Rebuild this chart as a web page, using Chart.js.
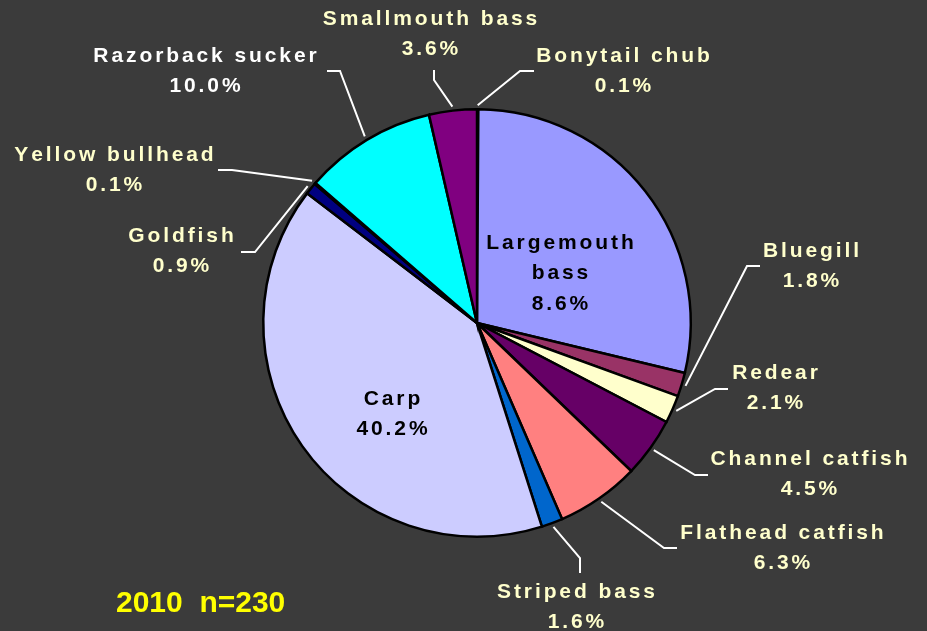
<!DOCTYPE html>
<html>
<head>
<meta charset="utf-8">
<script src="https://cdn.jsdelivr.net/npm/chart.js@4/dist/chart.umd.min.js"></script>
<style>
  html, body { margin: 0; padding: 0; background: #3b3b3b; }
  #wrap { width: 927px; height: 631px; position: relative; }
</style>
</head>
<body>
<div id="wrap"><canvas id="c" width="927" height="631"></canvas></div>
<script>
// ---- data ----
const categories = ['Bonytail chub', 'Largemouth bass', 'Bluegill', 'Redear', 'Channel catfish',
  'Flathead catfish', 'Striped bass', 'Carp', 'Goldfish', 'Yellow bullhead', 'Razorback sucker', 'Smallmouth bass'];
// slice sizes as drawn (percent of catch)
const shares = [0.1, 28.6, 1.8, 2.1, 4.5, 6.3, 1.6, 40.2, 0.9, 0.1, 10.0, 3.6];
// percentages as printed on the chart
const printedPercents = ['0.1%', '8.6%', '1.8%', '2.1%', '4.5%', '6.3%', '1.6%', '40.2%', '0.9%', '0.1%', '10.0%', '3.6%'];
const titleText = '2010  n=230';

// ---- styles ----
const sliceColors = ['#800000', '#9999FF', '#993366', '#FFFFCC', '#660066', '#FF8080', '#0066CC',
  '#CCCCFF', '#000080', '#FF00FF', '#00FFFF', '#800080'];

// label layout: text lines, centre x, first-line y, colour, leader line points (elbow, end)
const labelLayout = [
  { lines: ['Bonytail chub'], x: 623, y: 56, color: '#FFFFCC', leader: [[520, 71], [534, 71]] },
  { lines: ['Largemouth', 'bass'], x: 560, y: 243, color: '#000000', inside: true },
  { lines: ['Bluegill'], x: 811, y: 251, color: '#FFFFCC', leader: [[747, 266], [760, 266]] },
  { lines: ['Redear'], x: 775, y: 373, color: '#FFFFCC', leader: [[715, 389], [728, 389]] },
  { lines: ['Channel catfish'], x: 809, y: 459, color: '#FFFFCC', leader: [[695, 475], [708, 475]] },
  { lines: ['Flathead catfish'], x: 782, y: 533, color: '#FFFFCC', leader: [[664, 548], [677, 548]] },
  { lines: ['Striped bass'], x: 576, y: 592, color: '#FFFFCC', leader: [[580, 558], [580, 573]] },
  { lines: ['Carp'], x: 392, y: 399, color: '#000000', inside: true },
  { lines: ['Goldfish'], x: 181, y: 236, color: '#FFFFCC', leader: [[255, 252], [241, 252]] },
  { lines: ['Yellow bullhead'], x: 114, y: 155, color: '#FFFFCC', leader: [[232, 170], [218, 170]] },
  { lines: ['Razorback sucker'], x: 205, y: 56, color: '#FFFFFF', leader: [[340, 71], [327, 71]] },
  { lines: ['Smallmouth bass'], x: 430, y: 19, color: '#FFFFCC', leader: [[434, 80], [434, 70]] }
];

const FONT = 'bold 21px "Liberation Sans", Arial, sans-serif';
const SPACING = 2.9;
const LINE_H = 30.5;

function spacedText(ctx, text, cx, cy) {
  const chars = Array.from(text);
  const widths = chars.map(ch => ctx.measureText(ch).width);
  const total = widths.reduce((a, b) => a + b, 0) + SPACING * (chars.length - 1);
  let x = cx - total / 2;
  ctx.textAlign = 'left';
  chars.forEach((ch, i) => { ctx.fillText(ch, x, cy); x += widths[i] + SPACING; });
}

const labelPlugin = {
  id: 'pieLabels',
  afterDraw(chart) {
    const ctx = chart.ctx;
    const arcs = chart.getDatasetMeta(0).data;
    ctx.save();
    // leader lines
    ctx.strokeStyle = '#FFFFFF';
    ctx.lineWidth = 2;
    ctx.lineJoin = 'miter';
    labelLayout.forEach((lab, i) => {
      if (!lab.leader) return;
      const a = arcs[i];
      const mid = (a.startAngle + a.endAngle) / 2;
      const r = a.outerRadius + 4;
      const sx = a.x + Math.cos(mid) * r;
      const sy = a.y + Math.sin(mid) * r;
      ctx.beginPath();
      ctx.moveTo(sx, sy);
      lab.leader.forEach(p => ctx.lineTo(p[0], p[1]));
      ctx.stroke();
    });
    // texts
    ctx.font = FONT;
    ctx.textBaseline = 'middle';
    labelLayout.forEach((lab, i) => {
      ctx.fillStyle = lab.color;
      const lines = lab.lines.concat([printedPercents[i]]);
      lines.forEach((t, k) => spacedText(ctx, t, lab.x, lab.y + k * LINE_H));
    });
    // title
    ctx.font = 'bold 30px "Liberation Sans", Arial, sans-serif';
    ctx.fillStyle = '#FFFF00';
    ctx.textAlign = 'left';
    ctx.fillText(titleText, 116, 604);
    ctx.restore();
  }
};

new Chart(document.getElementById('c'), {
  type: 'pie',
  data: {
    labels: categories,
    datasets: [{
      data: shares,
      backgroundColor: sliceColors,
      borderColor: '#000000',
      borderWidth: 2.5,
      borderJoinStyle: 'miter'
    }]
  },
  options: {
    responsive: false,
    animation: false,
    devicePixelRatio: 1,
    layout: { padding: { left: 262, right: 235, top: 108, bottom: 93 } },
    plugins: { legend: { display: false }, tooltip: { enabled: false } }
  },
  plugins: [labelPlugin]
});
</script>
</body>
</html>
